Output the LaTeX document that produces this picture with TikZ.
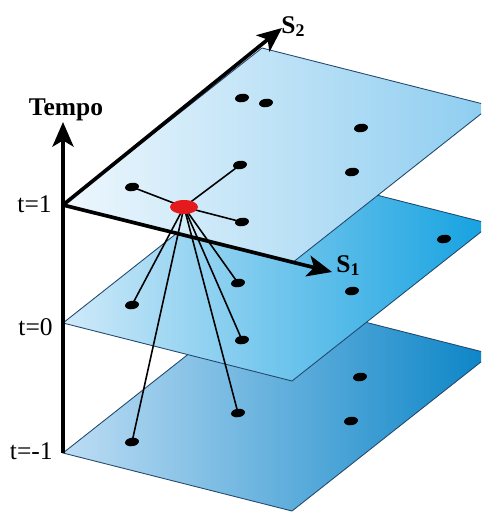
\documentclass[tikz,border=0pt]{standalone}
\usepackage{fontspec}
\setmainfont{Liberation Serif}
\usetikzlibrary{arrows.meta,shapes.geometric}
\definecolor{planeedge}{HTML}{23486E}
\definecolor{hubred}{HTML}{E41A1C}
\definecolor{topA}{HTML}{EEF7FD}
\definecolor{topB}{HTML}{8DCDF0}
\definecolor{midA}{HTML}{D0EAF9}
\definecolor{midB}{HTML}{13A1E0}
\definecolor{lowA}{HTML}{BEDDF4}
\definecolor{lowB}{HTML}{0A84C6}
\begin{document}
\begin{tikzpicture}[x=0.02cm, y=-0.02cm,
  plane/.style={draw=planeedge, line width=0.5pt},
  axis/.style={line width=2.1pt, -{Stealth[length=14pt, width=12pt, inset=3.5pt]}},
  pt/.style={ellipse, fill=black, minimum width=0.28cm, minimum height=0.17cm, inner sep=0pt, rotate=8},
  hub/.style={ellipse, fill=hubred, minimum width=0.56cm, minimum height=0.28cm, inner sep=0pt},
  link/.style={line width=0.9pt},
  lab/.style={font=\fontsize{14.5}{16}\selectfont, inner sep=0pt},
  head/.style={font=\fontsize{14.5}{16}\selectfont\bfseries, inner sep=0pt}]
\useasboundingbox (0,0) rectangle (481,514);
\clip (0,0) rectangle (481,514);

\coordinate (L1) at (63,205);
\coordinate (B1) at (262,48);
\coordinate (R1) at (491,106);
\coordinate (F1) at (292,263);
\coordinate (L2) at (63,323);
\coordinate (B2) at (262,166);
\coordinate (R2) at (491,224);
\coordinate (F2) at (292,381);
\coordinate (L3) at (63,453);
\coordinate (B3) at (262,296);
\coordinate (R3) at (491,354);
\coordinate (F3) at (292,511);
\coordinate (tempotip) at (63,122);
\coordinate (s2tip) at (282,28);
\coordinate (s1tip) at (332,272);
\coordinate (hubc) at (184,207);

\shade[plane, left color=lowA, right color=lowB] (L3) -- (B3) -- (R3) -- (F3) -- cycle;
\shade[plane, left color=midA, right color=midB] (L2) -- (B2) -- (R2) -- (F2) -- cycle;
\shade[plane, left color=topA, right color=topB] (L1) -- (B1) -- (R1) -- (F1) -- cycle;

\draw[axis] (L3) -- (tempotip);
\draw[axis] (L1) -- (s2tip);
\draw[axis] (L1) -- (s1tip);

\node[head, anchor=base] (tempo) at (66,115) {Tempo};
\node[head, anchor=base west] (s2) at (281,33) {S\textsubscript{2}};
\node[head, anchor=base west] (s1) at (336,272) {S\textsubscript{1}};
\node[lab, anchor=east] (t1) at (52,204) {t=1};
\node[lab, anchor=east] (t0) at (53,327) {t=0};
\node[lab, anchor=east] (tm1) at (53,451) {t=-1};

\node[pt] (a1) at (242,98) {};
\node[pt] (a2) at (266,103) {};
\node[pt] (a3) at (361,128) {};
\node[pt] (a4) at (240,165) {};
\node[pt] (a5) at (352,172) {};
\node[pt] (a6) at (132,187) {};
\node[pt] (a7) at (242,222) {};
\node[pt] (b1) at (444,239) {};
\node[pt] (b2) at (238,283) {};
\node[pt] (b3) at (352,291) {};
\node[pt] (b4) at (132,305) {};
\node[pt] (b5) at (242,340) {};
\node[pt] (d1) at (360,377) {};
\node[pt] (d2) at (238,413) {};
\node[pt] (d3) at (351,421) {};
\node[pt] (d4) at (132,442) {};

\draw[link] (hubc) -- (a6.center);
\draw[link] (hubc) -- (a4.center);
\draw[link] (hubc) -- (a7.center);
\draw[link] (hubc) -- (b2.center);
\draw[link] (hubc) -- (b4.center);
\draw[link] (hubc) -- (b5.center);
\draw[link] (hubc) -- (d2.center);
\draw[link] (hubc) -- (d4.center);
\node[hub] (hub) at (hubc) {};
\end{tikzpicture}
\end{document}
